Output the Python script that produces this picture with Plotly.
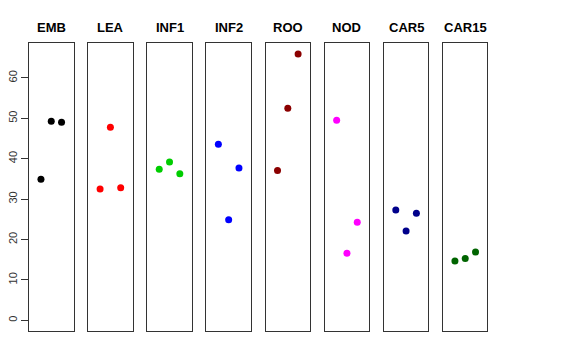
import plotly.graph_objects as go

categories = ["EMB", "LEA", "INF1", "INF2", "ROO", "NOD", "CAR5", "CAR15"]
colors = ["#000000", "#FF0000", "#00CD00", "#0000FF", "#8B0000", "#FF00FF", "#00008B", "#006400"]
replicate = [1, 2, 3]
EMB = [34.9, 49.3, 49.0]
LEA = [32.5, 47.8, 32.8]
INF1 = [37.4, 39.2, 36.3]
INF2 = [43.6, 24.9, 37.7]
ROO = [37.1, 52.5, 65.9]
NOD = [49.5, 16.6, 24.3]
CAR5 = [27.3, 22.1, 26.5]
CAR15 = [14.7, 15.3, 16.9]
values = [EMB, LEA, INF1, INF2, ROO, NOD, CAR5, CAR15]
yticks = [0, 10, 20, 30, 40, 50, 60]

W, H = 576, 360
fig = go.Figure()
layout = dict(
    width=W, height=H, margin=dict(l=0, r=0, t=0, b=0, autoexpand=False),
    paper_bgcolor="white", plot_bgcolor="white", showlegend=False,
    font=dict(family="Liberation Sans, Arial, sans-serif", color="black"),
)
annotations = []
ymax = 66
pad = ymax * 0.04
top, bottom = 43, 331
for i, (cat, col, vals) in enumerate(zip(categories, colors, values)):
    left = 29 + i * 59.14
    right = left + 44.5
    xa = "xaxis" if i == 0 else f"xaxis{i+1}"
    ya = "yaxis" if i == 0 else f"yaxis{i+1}"
    xr = "x" if i == 0 else f"x{i+1}"
    yr = "y" if i == 0 else f"y{i+1}"
    layout[xa] = dict(domain=[left / W, right / W], range=[-0.16, 4.16], anchor=yr,
                      showline=True, mirror=True, linecolor="#333333", linewidth=1,
                      showgrid=False, zeroline=False, showticklabels=False, ticks="",
                      automargin=False)
    layout[ya] = dict(domain=[1 - bottom / H, 1 - top / H], range=[-pad, ymax + pad], anchor=xr,
                      showline=True, mirror=True, linecolor="#333333", linewidth=1,
                      showgrid=False, zeroline=False, automargin=False,
                      showticklabels=(i == 0), ticks="outside" if i == 0 else "",
                      tickvals=yticks if i == 0 else None, ticklen=7, tickcolor="#333333",
                      tickangle=-90, tickfont=dict(size=11, color="#333333"))
    fig.add_trace(go.Scatter(x=replicate, y=vals, mode="markers", xaxis=xr, yaxis=yr,
                             marker=dict(color=col, size=7, line=dict(width=0))))
    annotations.append(dict(text=f"<b>{cat}</b>", x=(left + right) / 2 / W, y=1 - 28 / H,
                            xref="paper", yref="paper", showarrow=False,
                            xanchor="center", yanchor="middle",
                            font=dict(size=13, color="black")))
layout["annotations"] = annotations
fig.update_layout(**layout)
fig.write_html("out.html", config={"displayModeBar": False},
               post_script="document.body.style.margin='0';document.body.style.overflow='hidden';")
